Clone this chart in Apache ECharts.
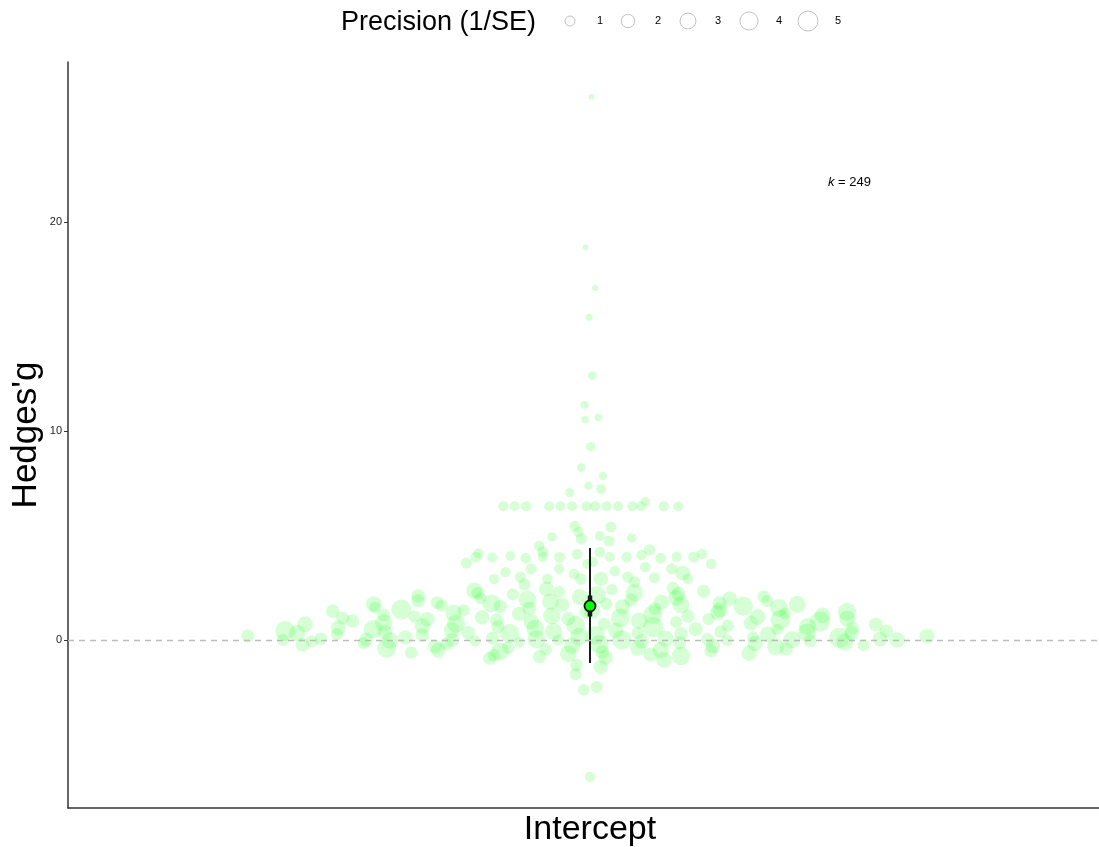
<!DOCTYPE html>
<html>
<head>
<meta charset="utf-8">
<script src="https://cdn.jsdelivr.net/npm/echarts@6/dist/echarts.min.js"></script>
<style>
  html, body { margin: 0; padding: 0; background: #ffffff; }
  #chartOrchard { width: 1099px; height: 847px; }
</style>
</head>
<body>
<div id="chartOrchard"></div>
<script>
// effect sizes (Hedges' g), with their precision (1/SE)
var hedgesG = [
  26.0, 18.8, 16.85, 15.45, 12.65, 11.25, 10.65, 10.55, 9.25, 8.25, 7.85, 7.38, 7.22, 7.05,
  6.4, 6.4, 6.4, 6.4, 6.4, 6.4, 6.4, 6.4, 6.4, 6.4, 6.4, 6.4, 6.4, 6.4, 6.62,
  5.45, 5.41, 5.17, 4.98, 4.93, 4.83, 4.74, 4.88, 4.5,
  4.21, 4.02, 4.22, 4.31, 4.11, 4.07, 3.64, 3.92, 3.97, 3.73, 3.96, 3.98, 3.68, 3.95, 3.97, 3.99, 3.92, 3.97, 3.96, 3.64, 4.12, 4.15,
  3.49, 3.4, 3.21, 3.01, 3.3, 3.25, 3.4, 3.4, 3.16, 2.92, 2.92, 3.01, 2.92, 2.97, 2.78, 2.92, 2.92, 2.65,
  2.48, 2.44, 2.41, 2.37, 2.33, 2.31, 2.27, 2.24, 2.2, 2.18, 2.14, 2.11, 2.08, 2.05, 2.02, 1.99, 1.97, 1.94, 1.91, 1.88,
  1.86, 1.83, 1.81, 1.79, 1.77, 1.75, 1.73, 1.72, 1.7,
  1.69, 1.67, 1.64, 1.62, 1.6, 1.58, 1.55, 1.53, 1.51, 1.49, 1.46, 1.44, 1.42, 1.4, 1.38, 1.35, 1.33, 1.31, 1.29, 1.27,
  1.25, 1.22, 1.2, 1.18, 1.16, 1.14, 1.12, 1.1, 1.08, 1.06, 1.05, 1.03, 1.02, 1.0,
  0.99, 0.96, 0.95, 0.92, 0.91, 0.88, 0.87, 0.86, 0.82, 0.81, 0.79, 0.76, 0.75, 0.74, 0.7, 0.69, 0.67, 0.64, 0.63, 0.62,
  0.58, 0.57, 0.55, 0.52, 0.51, 0.5, 0.47, 0.46, 0.44, 0.42, 0.41, 0.4, 0.38, 0.36, 0.35, 0.34, 0.33, 0.32, 0.31, 0.3,
  0.28, 0.26, 0.24, 0.22, 0.2, 0.18, 0.16, 0.14, 0.12, 0.1, 0.09, 0.07, 0.06, 0.05, 0.04, 0.03, 0.02, 0.01, 0.0, 0.0,
  0.0, 0.0, 0.0, -0.01, -0.02, -0.03, -0.04, -0.06, -0.07, -0.09, -0.11, -0.13, -0.15, -0.17, -0.19, -0.21, -0.23, -0.25, -0.27, -0.29,
  -0.31, -0.33, -0.36, -0.38, -0.4, -0.43, -0.45, -0.48, -0.5, -0.52, -0.55, -0.58, -0.6, -0.63, -0.66, -0.7, -0.73, -0.76, -0.8, -0.84, -0.88, -0.95,
  -1.2, -1.29, -1.63, -2.25, -2.39, -6.55
]
var precision = [
  0.25, 0.22, 0.3, 0.4, 0.75, 0.55, 0.5, 0.45, 0.9, 0.7, 0.65, 0.7, 1.0, 0.85,
  1.0, 1.05, 0.95, 1.0, 1.1, 1.0, 0.95, 1.05, 1.0, 1.0, 1.1, 0.95, 1.0, 1.05, 0.8,
  1.2, 1.3, 1.1, 1.0, 0.9, 1.4, 1.3, 0.9, 1.1,
  1.2, 1.0, 1.3, 1.4, 1.2, 1.1, 1.0, 1.2, 1.3, 1.0, 1.2, 1.1, 1.3, 1.0, 1.2, 1.1, 1.2, 1.0, 1.3, 1.2, 1.1, 1.0,
  1.2, 1.1, 2.6, 1.3, 1.2, 1.1, 1.4, 1.3, 1.2, 1.5, 1.2, 1.3, 1.1, 1.3, 1.4, 2.4, 1.2, 1.6,
  1.8, 2.6, 1.4, 3.1, 2.0, 1.5, 3.6, 1.9, 2.4, 1.6, 4.2, 2.2, 1.7, 3.0, 2.8, 1.5, 2.5, 3.8, 1.9, 2.1,
  1.6, 3.3, 2.7, 1.8, 2.3, 4.0, 1.7, 2.9, 3.4,
  2.3, 3.5, 1.7, 4.6, 2.0, 2.8, 1.5, 3.9, 2.2, 1.8, 5.0, 2.6, 1.6, 3.2, 2.1, 4.1, 1.9, 2.7, 3.4, 1.5,
  2.4, 4.4, 1.8, 2.9, 3.6, 2.0, 1.7, 3.0, 2.5, 4.3, 1.9, 3.1, 2.2, 1.6,
  2.5, 4.8, 1.9, 3.3, 2.1, 5.2, 2.8, 1.6, 3.7, 2.4, 4.0, 1.8, 3.0, 2.2, 4.5, 1.7, 2.9, 3.5, 2.0, 5.3,
  2.6, 1.9, 3.8, 2.3, 4.2, 1.5, 3.1, 2.7, 4.9, 2.0, 3.4, 1.8, 2.5, 3.9, 2.2, 1.7, 3.2, 2.4, 4.6, 2.1,
  1.6, 3.2, 2.1, 4.4, 1.9, 2.7, 3.8, 1.5, 2.4, 5.1, 2.0, 3.0, 1.7, 2.6, 4.0, 1.8, 2.2, 3.5, 1.4, 2.9,
  1.6, 4.7, 2.3, 1.5, 3.3, 1.9, 1.3, 2.5, 1.7, 3.6, 1.2, 2.0, 1.5, 2.8, 1.8, 4.3, 2.2, 1.6, 3.1, 2.4,
  2.2, 3.6, 1.8, 2.9, 4.5, 2.0, 1.6, 3.2, 2.5, 1.9, 3.9, 2.1, 1.7, 2.8, 3.4, 2.3, 1.8, 4.2, 2.0, 2.6, 1.9, 3.0,
  1.8, 2.4, 1.7, 1.6, 1.5, 1.1
]
// model estimate, confidence and prediction intervals
var meanG = 1.63
var ciG = [1.12, 2.13]
var piG = [-1.1, 4.4]
var kLabel = 249
var legendBreaks = [1, 2, 3, 4, 5]
var yTicks = [0, 10, 20]

// point diameter from precision (area-like scale)
function sizeOf(p) {
  return 8.09 * Math.sqrt(p) + 1.9
}

// quasirandom offsets: van der Corput sequence scaled by density
function vdc(k) {
  var v = 0, denom = 1
  while (k > 0) {
    denom *= 2
    v += (k % 2) / denom
    k = Math.floor(k / 2)
  }
  return v
}
function quasirandom(y, width) {
  var n = y.length
  var sorted = y.slice().sort(function (a, b) { return a - b })
  var mean = y.reduce(function (a, b) { return a + b }, 0) / n
  var sd = Math.sqrt(y.reduce(function (a, b) { return a + (b - mean) * (b - mean) }, 0) / (n - 1))
  function q(p) {
    var h = (n - 1) * p, lo = Math.floor(h)
    return sorted[lo] + (h - lo) * ((sorted[lo + 1] || sorted[lo]) - sorted[lo])
  }
  var iqr = q(0.75) - q(0.25)
  var bw = 0.9 * Math.min(sd, iqr / 1.34) * Math.pow(n, -0.2) * 0.5
  var dens = y.map(function (yi) {
    var s = 0
    for (var j = 0; j < n; j++) {
      var z = (yi - y[j]) / bw
      s += Math.exp(-0.5 * z * z)
    }
    return s
  })
  var maxD = Math.max.apply(null, dens)
  var idx = y.map(function (v, i) { return i })
  idx.sort(function (a, b) { return y[a] - y[b] || a - b })
  var rank = []
  idx.forEach(function (i, r) { rank[i] = r + 1 })
  return y.map(function (yi, i) {
    return (vdc(rank[i]) - 0.5) * 2 * width * dens[i] / maxD
  })
}

var offsets = quasirandom(hedgesG, 0.4)
var pointData = hedgesG.map(function (g, i) {
  return [1 + offsets[i], g, precision[i]]
})

var font = 'Liberation Sans, Arial, Helvetica, sans-serif'

// legend drawn as graphic elements
var legendItems = [{
  type: 'text', left: 341, top: 9,
  style: { text: 'Precision (1/SE)', font: '27px ' + font, fill: '#000' }
}]
var legendX = [570, 628, 688, 749, 808]
legendBreaks.forEach(function (b, i) {
  legendItems.push({
    type: 'circle', shape: { cx: legendX[i], cy: 21, r: sizeOf(b) / 2 },
    style: { fill: '#ffffff', stroke: '#b3b3b3', lineWidth: 0.8 }
  })
  legendItems.push({
    type: 'text', x: legendX[i] + 30, y: 21,
    style: { text: String(b), font: '11px ' + font, fill: '#000', align: 'center', verticalAlign: 'middle' }
  })
})
legendItems.push({
  type: 'text', x: 828, y: 182,
  style: {
    text: '{i|k} = ' + kLabel,
    font: '13px ' + font, fill: '#000', verticalAlign: 'middle',
    rich: { i: { fontStyle: 'italic', fontSize: 13, fontFamily: font } }
  }
})

var option = {
  animation: false,
  backgroundColor: '#ffffff',
  textStyle: { fontFamily: font },
  grid: { left: 68, top: 62, width: 1044, height: 746, outerBoundsMode: 'none', containLabel: false },
  xAxis: {
    type: 'value',
    min: 0.4,
    max: 1.6,
    name: 'Intercept',
    nameLocation: 'middle',
    nameGap: 5,
    nameTextStyle: { fontSize: 34, color: '#000', fontFamily: font, verticalAlign: 'top' },
    axisLine: { show: true, onZero: false, lineStyle: { color: '#333', width: 1.5 } },
    axisTick: { show: false },
    axisLabel: { show: false },
    splitLine: { show: false }
  },
  yAxis: {
    type: 'value',
    min: -8.04,
    max: 27.66,
    name: "Hedges'g",
    nameLocation: 'middle',
    nameGap: 24,
    nameMoveOverlap: false,
    nameTextStyle: { fontSize: 35, color: '#000', fontFamily: font },
    axisLine: { show: true, lineStyle: { color: '#333', width: 1.5 } },
    axisTick: { show: true, length: 4, customValues: yTicks, lineStyle: { color: '#333', width: 1 } },
    axisLabel: { customValues: yTicks, fontSize: 11, color: '#222', margin: 6 },
    splitLine: { show: false }
  },
  graphic: legendItems,
  series: [
    {
      // zero reference line
      type: 'line',
      data: [],
      silent: true,
      z: 1,
      markLine: {
        silent: true,
        symbol: 'none',
        label: { show: false },
        lineStyle: { color: '#bdbdbd', type: [6, 5], width: 1.3 },
        data: [{ yAxis: 0 }]
      }
    },
    {
      type: 'scatter',
      data: pointData,
      z: 2,
      silent: true,
      symbolSize: function (d) { return sizeOf(d[2]) },
      itemStyle: { color: 'rgba(0,255,0,0.2)', borderWidth: 0 }
    },
    {
      type: 'line',
      data: [[1, piG[0]], [1, piG[1]]],
      symbol: 'none',
      silent: true,
      z: 3,
      lineStyle: { color: '#1a1a1a', width: 2 }
    },
    {
      type: 'line',
      data: [[1, ciG[0]], [1, ciG[1]]],
      symbol: 'none',
      silent: true,
      z: 4,
      lineStyle: { color: '#1a1a1a', width: 4.5 }
    },
    {
      type: 'scatter',
      data: [[1, meanG]],
      symbolSize: 11,
      silent: true,
      z: 5,
      itemStyle: { color: '#00ff00', borderColor: '#111', borderWidth: 1.8, opacity: 1 }
    }
  ]
}

var myChart = echarts.init(document.getElementById('chartOrchard'))
myChart.setOption(option)
</script>
</body>
</html>
